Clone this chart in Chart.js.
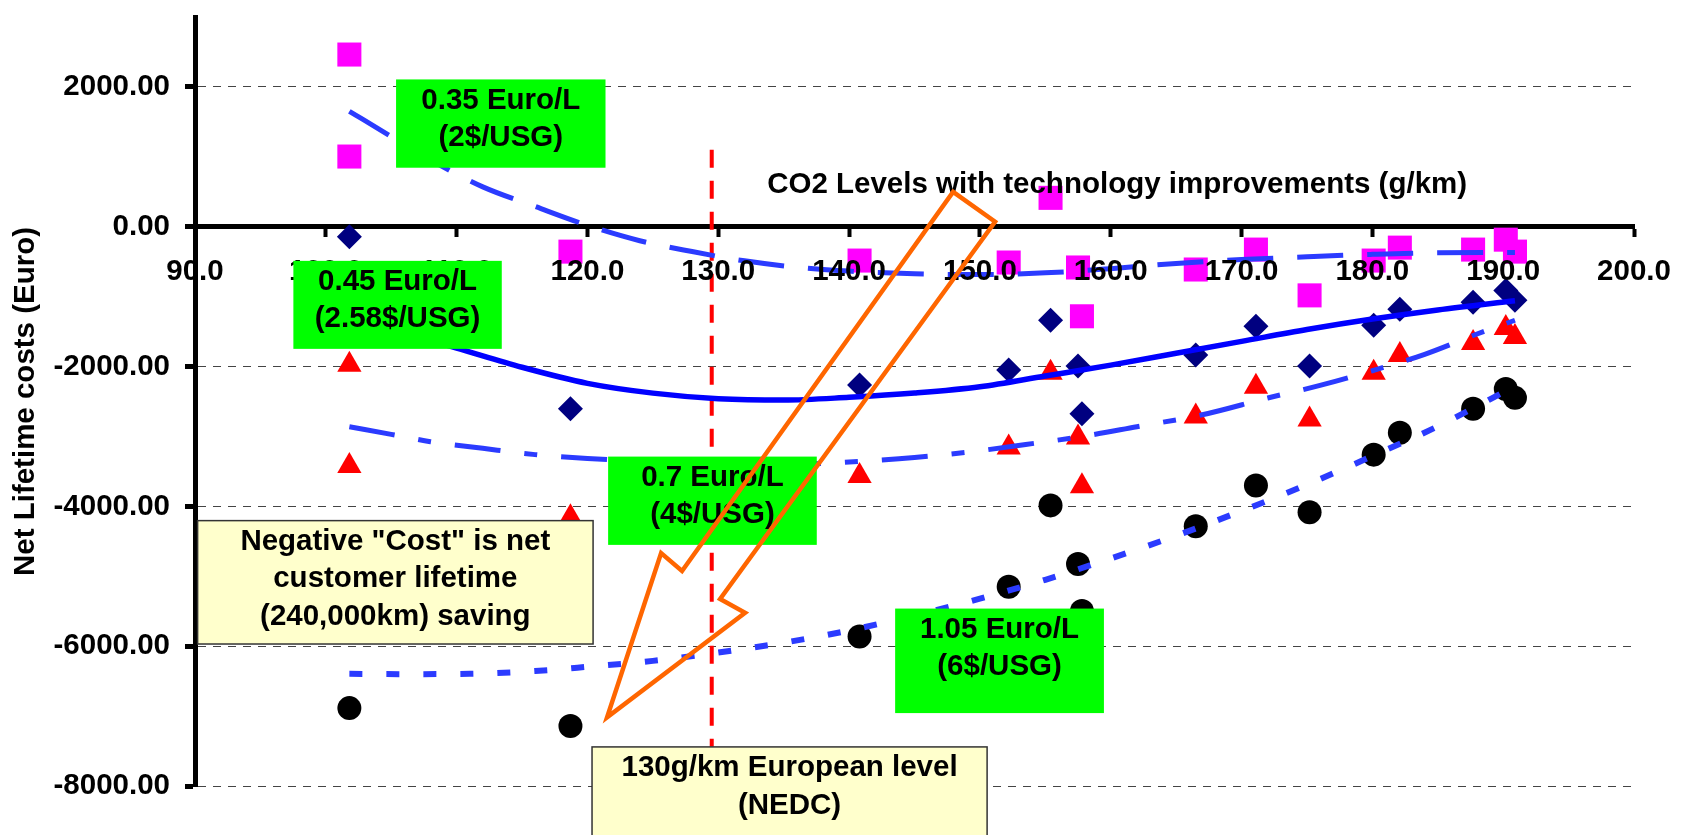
<!DOCTYPE html>
<html>
<head>
<meta charset="utf-8">
<title>Net lifetime costs vs CO2 level</title>
<script src="https://cdn.jsdelivr.net/npm/chart.js@4.4.1/dist/chart.umd.min.js"></script>
<style>
  html, body { margin: 0; padding: 0; background: #ffffff; }
  canvas { display: block; }
</style>
</head>
<body>
<canvas id="chart" width="1688" height="835"></canvas>
<script>
// CO2 level of each vehicle variant (g/km)
const co2Levels = [101.8, 101.8, 118.7, 140.8, 152.2, 155.4, 157.5, 157.8, 166.5, 171.1, 175.2, 180.1, 182.1, 187.7, 190.2, 190.9];

// Net lifetime cost (Euro) at each fuel price; null where no value is plotted
const cost035 = [2463, 1004, -356, -484, -512, 413, -583, -1281, -612, -327, -982, -484, -299, -327, -185, -356];
const cost045 = [null, -142, -2605, -2263, -2050, -1338, -1993, -2676, -1836, -1423, -1993, -1409, -1181, -1082, -911, -1053];
const cost070 = [-1976, -3424, -4157, -3566, -3157, -2090, -3015, -3713, -2716, -2289, -2759, -2090, -1834, -1663, -1449, -1577];
const cost105 = [-6886, null, -7142, -5861, -5149, -3986, -4826, -5495, -4285, -3701, -4085, -3260, -2947, -2605, -2320, -2448];

// Trend curves for each fuel price
const trend035X = [101.8, 105, 108.5, 112, 116, 120, 124, 128, 132, 136, 140, 145, 150, 155, 160, 165, 170, 175, 180, 185, 190.9];
const trend035Y = [1651, 1291, 905, 570, 290, 20, -200, -355, -488, -580, -635, -672, -685, -660, -600, -525, -470, -430, -395, -372, -368];
const trend045X = [101.8, 106, 110, 115, 120, 125, 130, 135, 140, 145, 150, 155, 160, 165, 170, 175, 180, 185, 190.9];
const trend045Y = [-1280, -1520, -1735, -2010, -2240, -2380, -2460, -2480, -2440, -2380, -2290, -2135, -1980, -1810, -1640, -1470, -1320, -1190, -1058];
const trend070X = [101.8, 105, 108, 112, 116, 120, 125, 130, 135, 138.2, 141, 145, 149.5, 153.5, 158, 162, 167, 172, 176, 180, 184, 188, 190.9];
const trend070Y = [-2861, -2970, -3075, -3170, -3260, -3315, -3360, -3385, -3395, -3384, -3355, -3300, -3215, -3115, -2995, -2860, -2690, -2450, -2270, -2060, -1825, -1535, -1338];
const trend105X = [101.8, 106, 111, 116, 120, 125, 130, 135, 140, 145, 150, 155, 160, 165, 170, 175, 180, 185, 190.9];
const trend105Y = [-6395, -6400, -6395, -6355, -6295, -6210, -6090, -5950, -5775, -5560, -5320, -5050, -4745, -4420, -4065, -3690, -3280, -2855, -2280];

// 130 g/km European target (NEDC), drawn as a vertical reference line
const targetCo2 = [129.5, 129.5];
const targetSpan = [1100, -7440];

// Axis ticks
const xTicks = [90, 100, 110, 120, 130, 140, 150, 160, 170, 180, 190, 200];
const yTicks = [-8000, -6000, -4000, -2000, 0, 2000];

const FONT = '"Liberation Sans", Arial, Helvetica, sans-serif';
const FONT_SIZE = 29.5;
Chart.defaults.font.family = FONT;
Chart.defaults.font.size = FONT_SIZE;
Chart.defaults.font.weight = 'bold';
Chart.defaults.color = '#000000';

const points = (xs, ys) => xs.map((x, i) => ({ x, y: ys[i] })).filter(p => p.y !== null);

// Callout boxes, title and arrow, placed in data units
const priceBoxes = [
  { lines: ['0.35 Euro/L', '(2$/USG)'], x: [105.37, 121.38], y: [2107, 844] },
  { lines: ['0.45 Euro/L', '(2.58$/USG)'], x: [97.52, 113.45], y: [-488, -1747] },
  { lines: ['0.7 Euro/L', '(4$/USG)'], x: [121.58, 137.53], y: [-3288, -4551] },
  { lines: ['1.05 Euro/L', '(6$/USG)'], x: [143.52, 159.48], y: [-5462, -6957] }
];
const noteBoxes = [
  { lines: ['Negative "Cost" is net', 'customer lifetime', '(240,000km) saving'], x: [90.2, 120.43], y: [-4204, -5969] },
  { lines: ['130g/km European level', '(NEDC)'], x: [120.35, 150.55], y: [-7441, -8800] }
];
const xTitle = { text: 'CO2 Levels with technology improvements (g/km)', x: 160.49, y: 598 };
const arrowOutline = [
  [147.95, 498], [151.16, 71], [130.14, -5324], [132.05, -5523],
  [121.5, -7018], [125.63, -4669], [127.23, -4925]
];

const overlayPlugin = {
  id: 'overlay',
  afterDraw(chart) {
    const { ctx, scales: { x, y } } = chart;
    const px = v => x.getPixelForValue(v);
    const py = v => y.getPixelForValue(v);
    const font = 'bold ' + FONT_SIZE + 'px ' + FONT;
    ctx.save();
    const drawBox = (b, fill, stroke) => {
      const l = px(b.x[0]), r = px(b.x[1]), t = py(b.y[0]), bt = py(b.y[1]);
      ctx.fillStyle = fill;
      ctx.fillRect(l, t, r - l, bt - t);
      if (stroke) {
        ctx.lineWidth = 1.5;
        ctx.strokeStyle = stroke;
        ctx.strokeRect(l, t, r - l, bt - t);
      }
      ctx.fillStyle = '#000000';
      ctx.font = font;
      ctx.textAlign = 'center';
      ctx.textBaseline = 'middle';
      b.lines.forEach((s, i) => ctx.fillText(s, (l + r) / 2, t + 21 + i * 37.5));
    };
    noteBoxes.forEach(b => drawBox(b, '#ffffcc', '#333333'));
    priceBoxes.forEach(b => drawBox(b, '#00ff00', null));

    ctx.fillStyle = '#000000';
    ctx.font = font;
    ctx.textAlign = 'center';
    ctx.textBaseline = 'middle';
    ctx.fillText(xTitle.text, px(xTitle.x), py(xTitle.y));

    ctx.beginPath();
    arrowOutline.forEach(([ax, ay], i) => {
      if (i === 0) ctx.moveTo(px(ax), py(ay));
      else ctx.lineTo(px(ax), py(ay));
    });
    ctx.closePath();
    ctx.lineWidth = 4.5;
    ctx.lineJoin = 'miter';
    ctx.strokeStyle = '#ff6600';
    ctx.stroke();
    ctx.restore();
  }
};

const trendStyle = (color, dash, width) => ({
  showLine: true, pointRadius: 0, borderColor: color, borderWidth: width,
  borderDash: dash, cubicInterpolationMode: 'monotone', fill: false, order: 0
});
const markerStyle = (style, radius, color) => ({
  showLine: false, pointStyle: style, pointRadius: radius, backgroundColor: color,
  borderWidth: 0, order: 1
});

new Chart(document.getElementById('chart'), {
  type: 'scatter',
  data: {
    datasets: [
      Object.assign({ label: '0.35 Euro/L trend', data: points(trend035X, trend035Y) }, trendStyle('#2b3bff', [46, 24], 5)),
      Object.assign({ label: '0.45 Euro/L trend', data: points(trend045X, trend045Y) }, trendStyle('#0000ff', [], 5.5)),
      Object.assign({ label: '0.7 Euro/L trend', data: points(trend070X, trend070Y) }, trendStyle('#2b3bff', [46, 24, 13, 24], 5)),
      Object.assign({ label: '1.05 Euro/L trend', data: points(trend105X, trend105Y) }, trendStyle('#2b3bff', [13, 24], 6)),
      Object.assign({ label: '0.35 Euro/L', data: points(co2Levels, cost035) }, markerStyle('rect', 17, '#ff00ff')),
      Object.assign({ label: '0.45 Euro/L', data: points(co2Levels, cost045) }, markerStyle('rectRot', 12.5, '#000080')),
      Object.assign({ label: '0.7 Euro/L', data: points(co2Levels, cost070) }, markerStyle('triangle', 14, '#ff0000')),
      Object.assign({ label: '1.05 Euro/L', data: points(co2Levels, cost105) }, markerStyle('circle', 12, '#000000')),
      {
        label: '130g/km', data: points(targetCo2, targetSpan), showLine: true, pointRadius: 0,
        borderColor: '#ff0000', borderWidth: 4, borderDash: [18, 13], order: 2
      }
    ]
  },
  options: {
    responsive: false,
    animation: false,
    devicePixelRatio: 1,
    layout: { padding: { left: 0, top: 13, right: 54, bottom: 49 } },
    plugins: { legend: { display: false }, tooltip: { enabled: false } },
    scales: {
      x: {
        type: 'linear', min: 90, max: 200, position: { y: 0 },
        afterBuildTicks: s => { s.ticks = xTicks.map(v => ({ value: v })); },
        afterFit: s => { s.paddingLeft = 0; s.paddingRight = 0; },
        ticks: { autoSkip: false, maxRotation: 0, padding: 19, z: 1, callback: v => Number(v).toFixed(1) },
        grid: { drawOnChartArea: false, drawTicks: true, tickLength: 8, tickColor: '#000000', tickWidth: 4 },
        border: { display: true, color: '#000000', width: 5 }
      },
      y: {
        type: 'linear', min: -8000, max: 3000, position: 'left',
        afterBuildTicks: s => { s.ticks = yTicks.map(v => ({ value: v })); },
        afterFit: s => { s.width = 195; s.paddingTop = 0; s.paddingBottom = 0; },
        ticks: { padding: 15, callback: v => Number(v).toFixed(2) },
        grid: { color: '#444444', lineWidth: 1, drawTicks: true, tickLength: 10, tickColor: '#000000', tickWidth: 5 },
        border: { display: true, color: '#000000', width: 5, dash: [8, 7] },
        title: { display: true, text: 'Net Lifetime costs (Euro)', padding: { top: 8, bottom: 0 } }
      }
    }
  },
  plugins: [overlayPlugin]
});
</script>
</body>
</html>
